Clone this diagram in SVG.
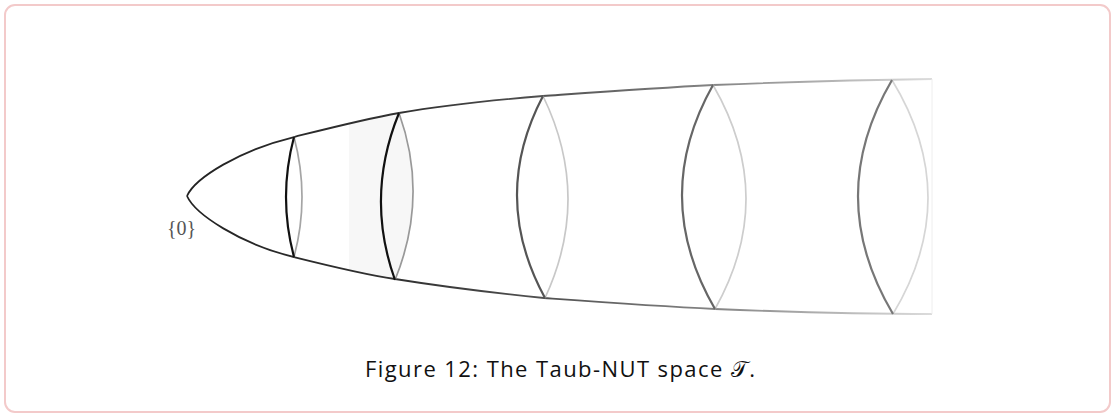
<svg xmlns="http://www.w3.org/2000/svg" width="1113" height="414" viewBox="0 0 1113 414">
<style>
.frame{fill:#fff;stroke:#f3caca;stroke-width:2}
.edge{fill:none;stroke:url(#fade);stroke-width:1.8}
.front{fill:none;stroke-width:2.2}
.back{fill:none;stroke-width:1.7}
.lbl{font-family:"Liberation Serif","DejaVu Serif",serif;font-size:20px;fill:#555}
.cap{font-family:"Open Sans","Liberation Sans",sans-serif;font-size:22px;fill:#111}
</style>
<defs>
<linearGradient id="fade" gradientUnits="userSpaceOnUse" x1="187" y1="0" x2="932" y2="0">
<stop offset="0" stop-color="#222"/>
<stop offset="0.3" stop-color="#333"/>
<stop offset="0.5" stop-color="#555"/>
<stop offset="0.72" stop-color="#888"/>
<stop offset="1" stop-color="#dcdcdc"/>
</linearGradient>
<clipPath id="band">
<path d="M294,137 C330,128 365,119 399,113 Q429,196.5 395,280 C362,274 330,266 294,257 Z"/>
</clipPath>
</defs>
<rect class="frame" x="5" y="5" width="1105" height="407" rx="10"/>
<g id="shade">
<rect x="349" y="105" width="90" height="185" fill="#f7f7f7" clip-path="url(#band)"/>
</g>
<g id="connectors">
<path class="edge" d="M187,196 C195,178 240,150 294,137 C330,128 365,119 399,113 C445,105 495,100 543,96 C600,92 655,88 713,85 C790,82 860,80 932,79"/>
<path class="edge" d="M187,196 C195,214 240,244 294,257 C330,266 362,274 395,279 C445,287 495,293 544,298 C600,302 655,306 715,309 C790,312 860,314 932,314"/>
<path d="M932,79 L932,314" fill="none" stroke="#eee" stroke-width="1"/>
</g>
<g id="lens1">
<path class="back" stroke="#a5a5a5" d="M294,137 Q310,197 294,257"/>
<path class="front" stroke="#111" d="M294,137 Q278,197 294,257"/>
</g>
<g id="lens2">
<path class="back" stroke="#999" d="M399,113 Q429,196.5 395,280"/>
<path class="front" stroke="#111" d="M399,113 Q365,196.5 395,280"/>
</g>
<g id="lens3">
<path class="back" stroke="#c8c8c8" d="M543,96 Q592,197 545,298"/>
<path class="front" stroke="#555" d="M543,96 Q490,197 545,298"/>
</g>
<g id="lens4">
<path class="back" stroke="#cdcdcd" d="M713,85 Q778,197 715,309"/>
<path class="front" stroke="#666" d="M713,85 Q650,197 715,309"/>
</g>
<g id="lens5">
<path class="back" stroke="#d6d6d6" d="M892,80 Q963.5,197 893,314"/>
<path class="front" stroke="#777" d="M892,80 Q823.5,197 893,314"/>
</g>
<g id="origin-label">
<text class="lbl" x="167" y="235">{0}</text>
</g>
<g id="caption">
<text class="cap" x="560" y="377" text-anchor="middle" textLength="390" lengthAdjust="spacing">Figure 12: The Taub-NUT space <tspan font-family="'DejaVu Serif','Noto Sans','DejaVu Sans',serif">𝒯</tspan>.</text>
</g>
</svg>
